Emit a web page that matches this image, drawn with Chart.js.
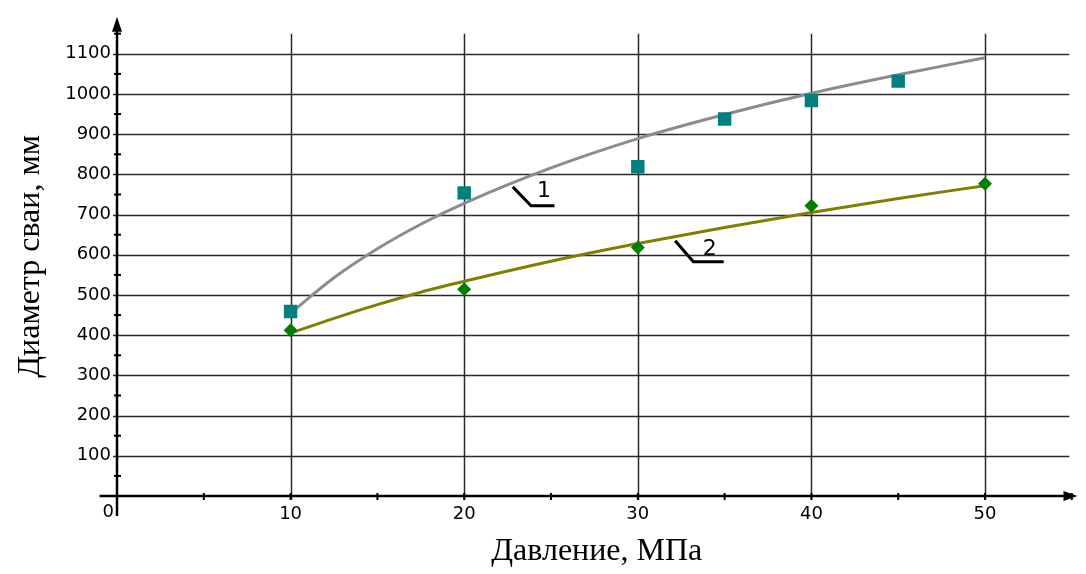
<!DOCTYPE html>
<html>
<head>
<meta charset="utf-8">
<script src="https://cdn.jsdelivr.net/npm/chart.js@4.4.0/dist/chart.umd.min.js"></script>
<style>
  html, body { margin: 0; padding: 0; background: #fff; }
</style>
</head>
<body>
<canvas id="pileChart" width="1086" height="574"></canvas>
<script>
// Measured points
const pressure1 = [10, 20, 30, 35, 40, 45];
const diameter1 = [459, 754, 819, 938, 984, 1032];
const pressure2 = [10, 20, 30, 40, 50];
const diameter2 = [412, 514, 618, 722, 777];

// Trend curves
const trendX = [10, 12.5, 15, 17.5, 20, 25, 30, 35, 40, 45, 50];
const trend1 = [455, 543, 615, 676, 728, 816, 889, 949, 1002, 1048, 1090];
const trend2 = [405, 442, 476, 507, 534, 584, 628, 668, 705, 740, 772];

// Tick labels
const xTicks = [10, 20, 30, 40, 50];
const yTicks = [100, 200, 300, 400, 500, 600, 700, 800, 900, 1000, 1100];

// Curve labels with leader lines (data coordinates)
const curveLabels = ['1', '2'];
const leaderX = [[22.8, 23.85, 25.2], [32.15, 33.2, 34.95]];
const leaderY = [[769, 722, 722], [635, 583, 583]];
const labelX = [24.6, 34.15];
const labelY = [757, 613];

const xTitle = 'Давление, МПа';
const yTitle = 'Диаметр сваи, мм';

const tickFont = { family: 'DejaVu Sans', size: 18 };
const titleFont = { family: 'Liberation Serif', size: 32 };

function toPoints(xs, ys) {
    return xs.map((x, i) => ({ x: x, y: ys[i] }));
}

// Axes with arrows, grid, minor ticks and curve labels
const sketchPlugin = {
    id: 'sketch',
    beforeDatasetsDraw(chart) {
        const ctx = chart.ctx;
        const xs = chart.scales.x;
        const ys = chart.scales.y;
        const x0 = xs.getPixelForValue(0);
        const y0 = ys.getPixelForValue(0);

        ctx.save();
        // grid
        ctx.strokeStyle = '#2a2a2a';
        ctx.lineWidth = 1.5;
        yTicks.forEach(v => {
            const y = Math.round(ys.getPixelForValue(v)) + 0.5;
            ctx.beginPath();
            ctx.moveTo(x0 - 4, y);
            ctx.lineTo(xs.getPixelForValue(54.85), y);
            ctx.stroke();
        });
        xTicks.forEach(v => {
            const x = Math.round(xs.getPixelForValue(v)) + 0.5;
            ctx.beginPath();
            ctx.moveTo(x, ys.getPixelForValue(1150));
            ctx.lineTo(x, y0 + 4);
            ctx.stroke();
        });

        // axes
        ctx.strokeStyle = '#000';
        ctx.fillStyle = '#000';
        ctx.lineWidth = 2.5;
        const top = chart.chartArea.top;
        const right = chart.chartArea.right;
        ctx.beginPath();
        ctx.moveTo(x0, ys.getPixelForValue(-50));
        ctx.lineTo(x0, top + 10);
        ctx.moveTo(xs.getPixelForValue(-1), y0);
        ctx.lineTo(right - 10, y0);
        ctx.stroke();
        ctx.beginPath();
        ctx.moveTo(x0, top);
        ctx.lineTo(x0 - 5, top + 15);
        ctx.lineTo(x0 + 5, top + 15);
        ctx.closePath();
        ctx.fill();
        ctx.beginPath();
        ctx.moveTo(right + 1, y0);
        ctx.lineTo(right - 13, y0 - 5);
        ctx.lineTo(right - 13, y0 + 5);
        ctx.closePath();
        ctx.fill();

        // minor ticks
        ctx.lineWidth = 2;
        for (let v = 50; v <= 1150; v += 100) {
            const y = ys.getPixelForValue(v);
            ctx.beginPath();
            ctx.moveTo(x0 - 3, y);
            ctx.lineTo(x0 + 4, y);
            ctx.stroke();
        }
        for (let v = 5; v <= 55; v += 5) {
            const x = xs.getPixelForValue(v);
            ctx.beginPath();
            ctx.moveTo(x, y0 - 3);
            ctx.lineTo(x, y0 + 4);
            ctx.stroke();
        }

        // origin label
        ctx.font = '18px "DejaVu Sans"';
        ctx.textAlign = 'right';
        ctx.textBaseline = 'top';
        ctx.fillText('0', x0 - 3, y0 + 7);
        ctx.restore();
    },
    afterDatasetsDraw(chart) {
        const ctx = chart.ctx;
        const xs = chart.scales.x;
        const ys = chart.scales.y;
        ctx.save();
        ctx.strokeStyle = '#000';
        ctx.fillStyle = '#000';
        ctx.lineWidth = 3;
        curveLabels.forEach((txt, i) => {
            ctx.beginPath();
            leaderX[i].forEach((vx, j) => {
                const px = xs.getPixelForValue(vx);
                const py = ys.getPixelForValue(leaderY[i][j]);
                if (j === 0) ctx.moveTo(px, py); else ctx.lineTo(px, py);
            });
            ctx.stroke();
            ctx.font = '22px "DejaVu Sans"';
            ctx.textAlign = 'center';
            ctx.textBaseline = 'middle';
            ctx.fillText(txt, xs.getPixelForValue(labelX[i]), ys.getPixelForValue(labelY[i]));
        });
        ctx.restore();
    }
};

const pileChart = new Chart(document.getElementById('pileChart'), {
    type: 'scatter',
    data: {
        datasets: [
            {
                label: 'points 1',
                data: toPoints(pressure1, diameter1),
                pointStyle: 'rect',
                pointRadius: 9.5,
                pointBackgroundColor: '#008080',
                pointBorderColor: '#008080',
                pointBorderWidth: 0,
                order: 0
            },
            {
                label: 'points 2',
                data: toPoints(pressure2, diameter2),
                pointStyle: 'rectRot',
                pointRadius: 7,
                pointBackgroundColor: '#008000',
                pointBorderColor: '#008000',
                pointBorderWidth: 0,
                order: 0
            },
            {
                label: 'trend 1',
                data: toPoints(trendX, trend1),
                showLine: true,
                borderColor: '#8c8c8c',
                borderWidth: 3,
                pointRadius: 0,
                cubicInterpolationMode: 'monotone',
                order: 1
            },
            {
                label: 'trend 2',
                data: toPoints(trendX, trend2),
                showLine: true,
                borderColor: '#808000',
                borderWidth: 3,
                pointRadius: 0,
                cubicInterpolationMode: 'monotone',
                order: 1
            }
        ]
    },
    options: {
        responsive: false,
        animation: false,
        layout: { padding: { top: 15, right: 4, left: 0, bottom: 0 } },
        plugins: {
            legend: { display: false },
            tooltip: { enabled: false }
        },
        scales: {
            x: {
                type: 'linear',
                min: 0,
                max: 55.27,
                grid: { display: false, drawTicks: false },
                border: { display: false },
                ticks: {
                    autoSkip: false,
                    maxRotation: 0,
                    padding: 8,
                    color: '#000',
                    font: tickFont,
                    callback: v => String(v)
                },
                afterBuildTicks: function(scale) {
                    scale.ticks = xTicks.map(v => ({ value: v }));
                },
                title: {
                    display: true,
                    text: xTitle,
                    color: '#000',
                    font: titleFont,
                    padding: { top: 0, bottom: 3 }
                },
                afterFit: function(scale) {
                    scale.height = 78;
                }
            },
            y: {
                type: 'linear',
                min: 0,
                max: 1192,
                grid: { display: false, drawTicks: false },
                border: { display: false },
                ticks: {
                    autoSkip: false,
                    padding: 6,
                    color: '#000',
                    font: tickFont,
                    callback: v => String(v)
                },
                afterBuildTicks: function(scale) {
                    scale.ticks = yTicks.map(v => ({ value: v }));
                },
                title: {
                    display: true,
                    text: yTitle,
                    color: '#000',
                    font: titleFont,
                    padding: { top: 11, bottom: 0 }
                },
                afterFit: function(scale) {
                    scale.width = 117;
                }
            }
        }
    },
    plugins: [sketchPlugin]
});
</script>
</body>
</html>
